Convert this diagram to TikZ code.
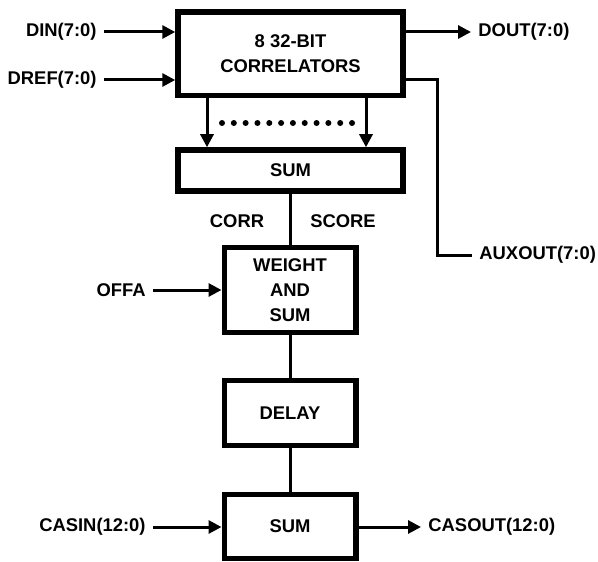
\documentclass[tikz,border=0pt]{standalone}
\usepackage{fontspec}
\setmainfont{Liberation Sans}
\usetikzlibrary{arrows.meta, positioning}

\begin{document}
\begin{tikzpicture}[
    x=0.5pt, y=-0.5pt,
    font=\fontsize{9.2}{12.5}\selectfont\bfseries,
    block/.style={
        rectangle, draw=black, line width=2.75pt, fill=white,
        align=center, inner sep=0pt
    },
    sig/.style={inner sep=3.5pt},
    wire/.style={line width=1.5pt},
    arr/.style={wire, -{Triangle[length=6.5pt, width=6.5pt]}}
]
\useasboundingbox (0,0) rectangle (598,561);

% --- Blocks ---
\node[block, minimum width=112.5pt, minimum height=41.75pt] (corr) at (290.5,54)
      {8 32-BIT\\CORRELATORS};
\node[block, minimum width=112.5pt, minimum height=20.5pt] (sum1) at (290.5,170.5)
      {SUM};
\node[block, minimum width=65.75pt, minimum height=42.5pt] (wsum) at (290,290)
      {WEIGHT\\AND\\SUM};
\node[block, minimum width=65.75pt, minimum height=32.5pt] (delay) at (290,413)
      {DELAY};
\node[block, minimum width=65.75pt, minimum height=32pt] (sum2) at (290,526.5)
      {SUM};

% --- Signal labels ---
\node[sig, anchor=east] (din) at (104,32) {DIN(7:0)};
\node[sig, anchor=east] (dref) at (104,80) {DREF(7:0)};
\node[sig, anchor=west] (dout) at (471,32) {DOUT(7:0)};
\node[sig, anchor=west] (auxout) at (472,255) {AUXOUT(7:0)};
\node[sig, anchor=east] (offa) at (153,290) {OFFA};
\node[sig, anchor=east] (casin) at (153,527) {CASIN(12:0)};
\node[sig, anchor=west] (casout) at (421,527) {CASOUT(12:0)};
\node (corrlbl) at (237,221) {CORR};
\node (scorelbl) at (343,221) {SCORE};

% --- Taps between correlators and sum ---
\coordinate (tapL) at (207,0);
\coordinate (tapR) at (366,0);
\coordinate (auxX) at (437,0);
\foreach \i in {0,...,11}
    \fill (222+\i*11.82,123) circle (1.5pt);

% --- Connectors ---
\draw[arr] (din.east) -- (din.east -| corr.west);
\draw[arr] (dref.east) -- (dref.east -| corr.west);
\draw[arr] (dout.west -| corr.east) -- (dout.west);
\draw[wire] (dref.east -| corr.east) -| (auxX |- auxout.west) -- (auxout.west);
\draw[arr] (corr.south -| tapL) -- (sum1.north -| tapL);
\draw[arr] (corr.south -| tapR) -- (sum1.north -| tapR);
\draw[wire] (sum1.south -| wsum.north) -- (wsum.north);
\draw[arr] (offa.east) -- (offa.east -| wsum.west);
\draw[wire] (wsum.south) -- (delay.north);
\draw[wire] (delay.south) -- (sum2.north);
\draw[arr] (casin.east) -- (casin.east -| sum2.west);
\draw[arr] (sum2.east |- casout.west) -- (casout.west);
\end{tikzpicture}
\end{document}
